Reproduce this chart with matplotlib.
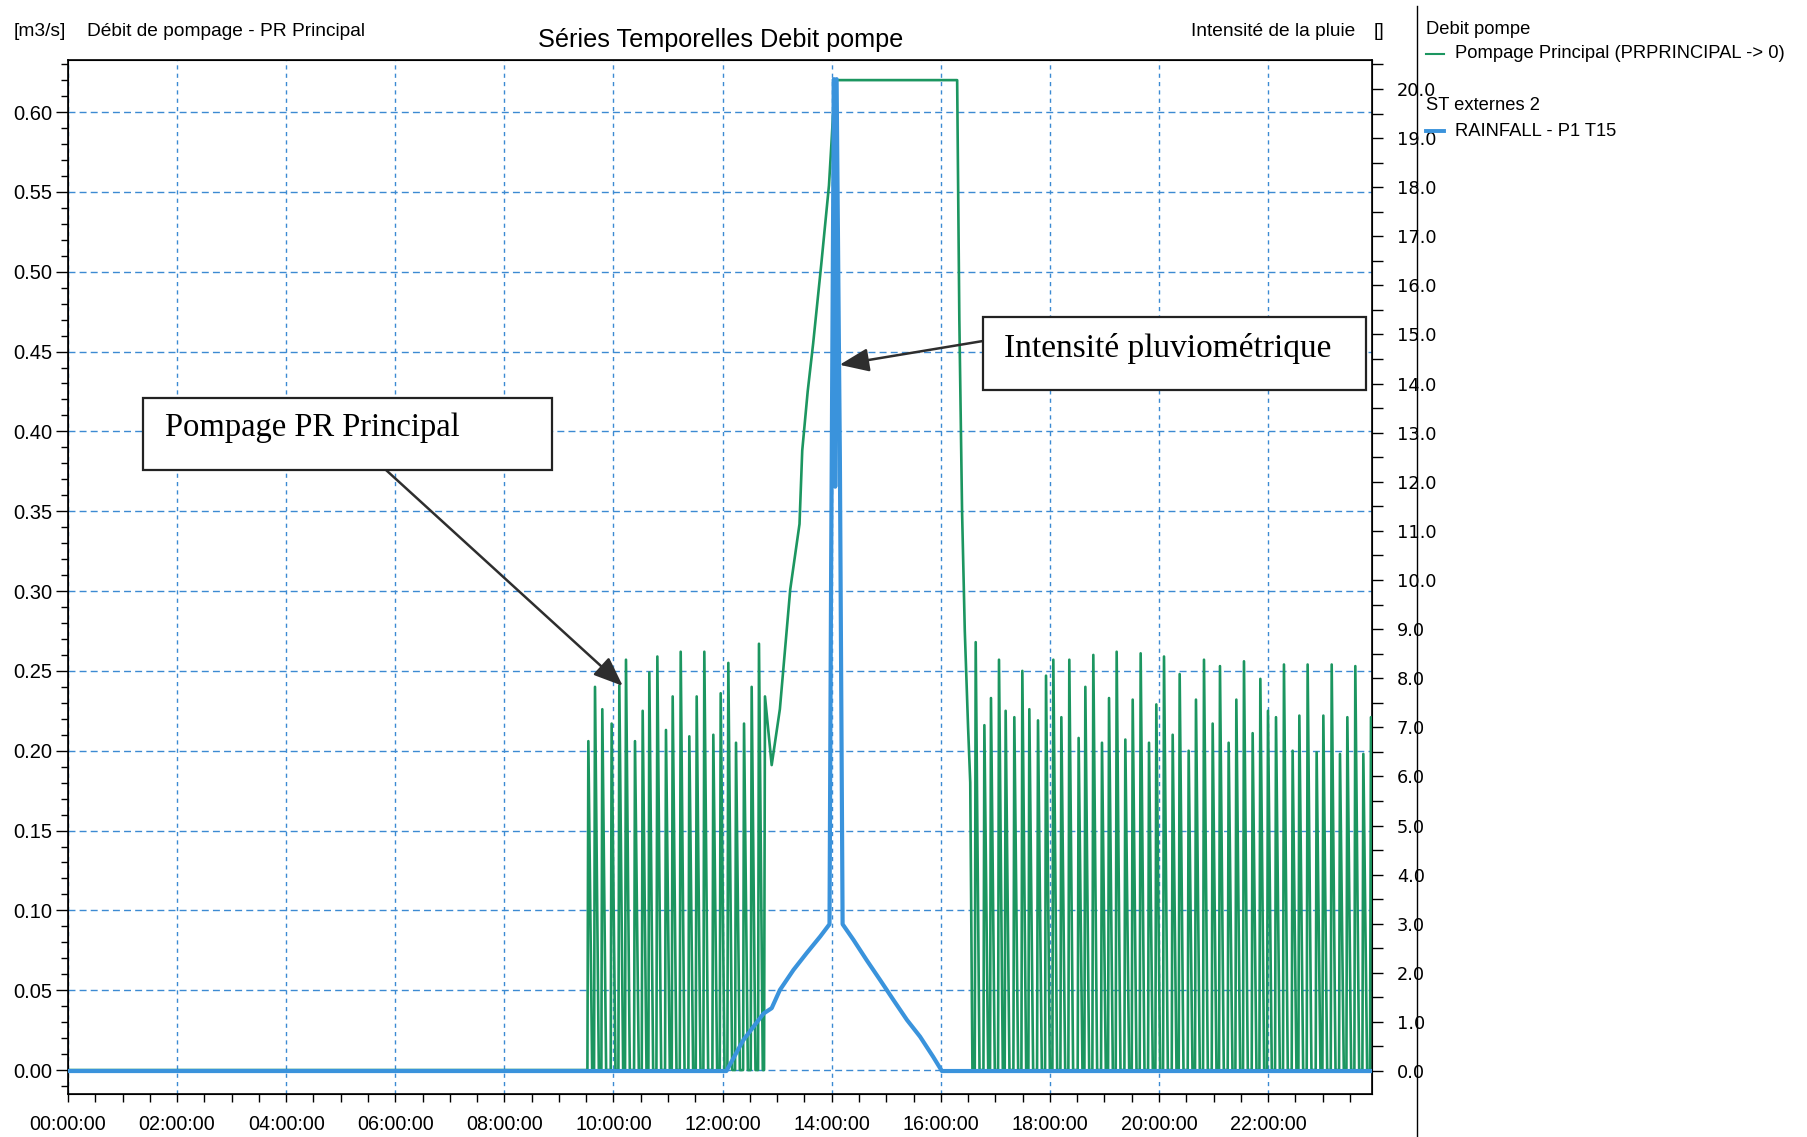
import matplotlib
matplotlib.use("Agg")
import matplotlib.pyplot as plt
from matplotlib.lines import Line2D
from matplotlib.patches import Rectangle
from matplotlib.ticker import MultipleLocator, FuncFormatter, FormatStrFormatter

plt.rcParams['font.family'] = ['Liberation Sans', 'DejaVu Sans']

# pump flow (m3/s), time in hours
# morning pump cycles: peak time / peak flow
pulses_am_t = [9.539, 9.661, 9.795, 9.966, 10.107, 10.229, 10.394, 10.535, 10.657, 10.804,
               10.962, 11.085, 11.232, 11.390, 11.525, 11.665, 11.830, 11.965, 12.105, 12.246,
               12.393, 12.533, 12.667]
pulses_am_q = [0.206, 0.240, 0.226, 0.217, 0.241, 0.257, 0.206, 0.225, 0.249, 0.259,
               0.213, 0.234, 0.262, 0.209, 0.234, 0.262, 0.210, 0.236, 0.255, 0.205,
               0.217, 0.240, 0.267]

# storm event: last cycle, ramp up, plateau and drop
event_t = [12.760, 12.777, 12.90, 13.05, 13.24, 13.41, 13.46, 13.56, 13.66, 13.81, 13.95,
           14.00, 14.06, 16.30, 16.34, 16.39, 16.44, 16.50, 16.54, 16.58]
event_q = [0.0, 0.234, 0.191, 0.226, 0.301, 0.342, 0.388, 0.425, 0.455, 0.505, 0.554,
           0.583, 0.620, 0.620, 0.470, 0.350, 0.275, 0.215, 0.180, 0.0]

# afternoon / evening pump cycles
pulses_pm_t = [16.640, 16.799, 16.920, 17.067, 17.189, 17.348, 17.495, 17.623, 17.782, 17.929,
               18.063, 18.210, 18.356, 18.527, 18.650, 18.796, 18.955, 19.084, 19.224, 19.383,
               19.518, 19.664, 19.817, 19.951, 20.092, 20.251, 20.379, 20.544, 20.678, 20.825,
               20.984, 21.118, 21.277, 21.418, 21.558, 21.717, 21.858, 21.998, 22.145, 22.291,
               22.450, 22.573, 22.725, 22.890, 23.013, 23.166, 23.318, 23.453, 23.599, 23.746,
               23.886]
pulses_pm_q = [0.268, 0.216, 0.233, 0.257, 0.225, 0.221, 0.250, 0.226, 0.219, 0.247,
               0.257, 0.221, 0.257, 0.208, 0.240, 0.260, 0.205, 0.233, 0.262, 0.207,
               0.232, 0.261, 0.205, 0.229, 0.259, 0.210, 0.248, 0.200, 0.232, 0.257,
               0.217, 0.253, 0.205, 0.232, 0.256, 0.211, 0.245, 0.225, 0.221, 0.254,
               0.200, 0.222, 0.254, 0.199, 0.222, 0.254, 0.198, 0.221, 0.253, 0.198,
               0.221]

# rainfall intensity P1 T15
rain_t = [0.0, 12.07, 12.38, 12.75, 12.90, 13.05, 13.30, 13.54, 13.79, 13.96, 13.99, 14.04,
          14.065, 14.09, 14.15, 14.20, 14.40, 14.64, 14.89, 15.13, 15.38, 15.62, 15.86, 16.02, 23.95]
rain_v = [0.0, 0.0, 0.63, 1.17, 1.28, 1.65, 2.06, 2.40, 2.74, 2.99, 10.3, 20.2,
          11.9, 20.2, 12.5, 2.99, 2.67, 2.26, 1.85, 1.45, 1.04, 0.70, 0.29, 0.0, 0.0]

GREEN = '#1c9660'
BLUE = '#3a93dc'
GRID = '#3c8ad2'
W, H = 1808, 1137


def pulse_train(times, peaks):
    # each pump cycle: fast start, short run, stop
    t, q = [], []
    for tp, qp in zip(times, peaks):
        t += [tp - 0.017, tp, tp + 0.07]
        q += [0.0, qp, 0.0]
    return t, q


def fx(px):
    return px / W


def fy(py):
    return 1 - py / H


am_t, am_q = pulse_train(pulses_am_t, pulses_am_q)
pm_t, pm_q = pulse_train(pulses_pm_t, pulses_pm_q)
pump_t = [0.0] + am_t + event_t + pm_t
pump_q = [0.0] + am_q + event_q + pm_q

fig = plt.figure(figsize=(W / 100, H / 100), dpi=100)
ax = fig.add_axes([fx(68), fy(1094), fx(1372) - fx(68), fy(60) - fy(1094)])
ax2 = ax.twinx()

ax.plot(pump_t, pump_q, color=GREEN, lw=1.9, zorder=3)
ax2.plot(rain_t, rain_v, color=BLUE, lw=3.0, zorder=4)

ax.set_xlim(0, 23.905)
ax.set_ylim(-0.015, 0.6326)
ax2.set_ylim(-0.468, 20.59)

ax.xaxis.set_major_locator(MultipleLocator(2))
ax.xaxis.set_minor_locator(MultipleLocator(0.5))
ax.xaxis.set_major_formatter(FuncFormatter(lambda h, _: f"{int(round(h)):02d}:00:00"))
ax.yaxis.set_major_locator(MultipleLocator(0.05))
ax.yaxis.set_minor_locator(MultipleLocator(0.01))
ax.yaxis.set_major_formatter(FormatStrFormatter('%.2f'))
ax2.yaxis.set_major_locator(MultipleLocator(1))
ax2.yaxis.set_minor_locator(MultipleLocator(0.5))
ax2.yaxis.set_major_formatter(FormatStrFormatter('%.1f'))

ax.tick_params(axis='y', which='major', length=9, width=1, pad=2, labelsize=14.5)
ax.tick_params(axis='y', which='minor', length=5, width=1)
ax.tick_params(axis='x', which='both', length=6, width=1, pad=9, labelsize=14.2)
ax2.tick_params(axis='y', which='both', length=8, width=1, pad=10, labelsize=12.8)
for lab in ax2.get_yticklabels():
    lab.set_family('DejaVu Sans')

ax.grid(True, axis='x', which='major', color=GRID, lw=1.0, ls=(0, (3, 3)))
ax.grid(True, axis='y', which='major', color=GRID, lw=1.0, ls=(0, (5, 3)))
ax.set_axisbelow(True)
for sp in ax.spines.values():
    sp.set_linewidth(1.2)

# headers
fig.text(fx(14), fy(32), '[m3/s]', fontsize=13.8, va='center', ha='left')
fig.text(fx(87), fy(32), 'Débit de pompage - PR Principal', fontsize=13.8, va='center', ha='left')
fig.text(fx(721), fy(40), 'Séries Temporelles Debit pompe', fontsize=18.2, va='center', ha='center')
fig.text(fx(1355), fy(32), 'Intensité de la pluie', fontsize=13.8, va='center', ha='right')
fig.text(fx(1384), fy(32), '[]', fontsize=13.8, va='center', ha='right')

# legend panel
fig.add_artist(Line2D([fx(1417), fx(1417)], [fy(6), 0], color='black', lw=1.0))
fig.text(fx(1426), fy(30), 'Debit pompe', fontsize=13.2, va='center', ha='left')
fig.add_artist(Line2D([fx(1426), fx(1444)], [fy(54), fy(54)], color=GREEN, lw=1.5))
fig.text(fx(1455), fy(54), 'Pompage Principal (PRPRINCIPAL -> 0)', fontsize=13.2, va='center', ha='left')
fig.text(fx(1426), fy(106), 'ST externes 2', fontsize=13.2, va='center', ha='left')
fig.add_artist(Line2D([fx(1426), fx(1444)], [fy(131), fy(131)], color=BLUE, lw=2.8))
fig.text(fx(1455), fy(131), 'RAINFALL - P1 T15', fontsize=13.2, va='center', ha='left')

# callout boxes
arrow = dict(arrowstyle='-|>,head_length=0.5,head_width=0.2', mutation_scale=36,
             color='#2e2e2e', lw=1.8, shrinkA=0, shrinkB=0)
fig.add_artist(Rectangle((fx(143), fy(470)), fx(552) - fx(143), fy(398) - fy(470),
                         transform=fig.transFigure, facecolor='white', edgecolor='#222222', lw=1.6, zorder=10))
fig.text(fx(165), fy(428), 'Pompage PR Principal', family='Liberation Serif', fontsize=23.5,
         va='center', ha='left', zorder=11)
ax.annotate('', xy=(10.17, 0.2406), xycoords='data', xytext=(fx(386), fy(470)),
            textcoords='figure fraction', arrowprops=arrow, zorder=12)

fig.add_artist(Rectangle((fx(983), fy(390)), fx(1366) - fx(983), fy(317) - fy(390),
                         transform=fig.transFigure, facecolor='white', edgecolor='#222222', lw=1.6, zorder=10))
fig.text(fx(1004), fy(348), 'Intensité pluviométrique', family='Liberation Serif', fontsize=24,
         va='center', ha='left', zorder=11)
ax.annotate('', xy=(14.145, 0.4417), xycoords='data', xytext=(fx(983), fy(341)),
            textcoords='figure fraction', arrowprops=arrow, zorder=12)

fig.savefig('out.png', dpi=100)
